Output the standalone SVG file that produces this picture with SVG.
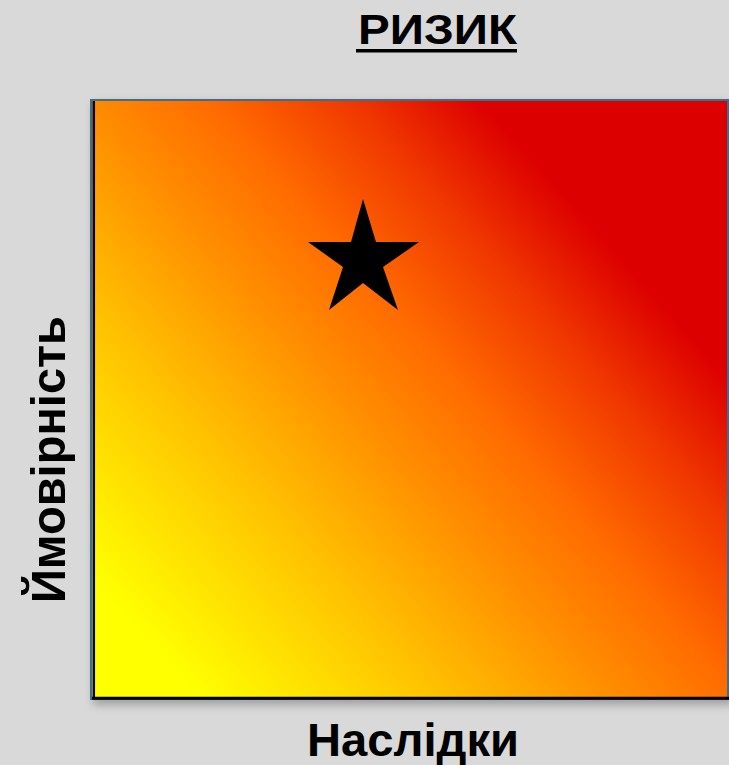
<svg xmlns="http://www.w3.org/2000/svg" width="729" height="765" viewBox="0 0 729 765">
  <defs>
    <linearGradient id="riskGrad" gradientUnits="userSpaceOnUse" x1="130" y1="620" x2="583" y2="216">
      <stop offset="0" stop-color="#FFFF00"/>
      <stop offset="0.3" stop-color="#FFC000"/>
      <stop offset="0.5" stop-color="#FF9000"/>
      <stop offset="0.67" stop-color="#FF6A00"/>
      <stop offset="0.84" stop-color="#F03800"/>
      <stop offset="1" stop-color="#DD0000"/>
    </linearGradient>
    <filter id="shadow" x="-10%" y="-10%" width="120%" height="120%">
      <feGaussianBlur stdDeviation="4"/>
    </filter>
    <style>
      .lbl { font-family: "Liberation Sans", Arial, sans-serif; font-weight: bold; fill: #000; }
    </style>
  </defs>
  <rect x="0" y="0" width="729" height="765" fill="#D9D9D9"/>

  <g id="title">
    <text class="lbl" x="358" y="44" font-size="42" textLength="159" lengthAdjust="spacingAndGlyphs">РИЗИК</text>
    <rect x="356" y="49" width="161" height="3.5" fill="#000"/>
  </g>

  <g id="matrix">
    <rect x="93" y="103" width="640" height="602" fill="#7a7a7a" opacity="0.6" filter="url(#shadow)"/>
    <rect x="91" y="100" width="637" height="599" fill="url(#riskGrad)" stroke="#3F6E8C" stroke-width="2"/>
    <line x1="93.8" y1="101" x2="93.8" y2="699" stroke="#000" stroke-width="2.5"/>
    <line x1="92" y1="698.2" x2="729" y2="698.2" stroke="#000" stroke-width="3"/>
  </g>

  <g id="star">
    <polygon points="363,199 376,242 419,242 383,267 398,310 363,283 329,310 343,267 308,242 351,242" fill="#000"/>
  </g>

  <g id="x-label">
    <text class="lbl" x="307" y="756" font-size="46" textLength="212" lengthAdjust="spacingAndGlyphs">Наслідки</text>
  </g>

  <g id="y-label">
    <text class="lbl" transform="translate(65,603) rotate(-90)" x="0" y="0" font-size="49" textLength="287" lengthAdjust="spacingAndGlyphs">Ймовірність</text>
  </g>
</svg>
